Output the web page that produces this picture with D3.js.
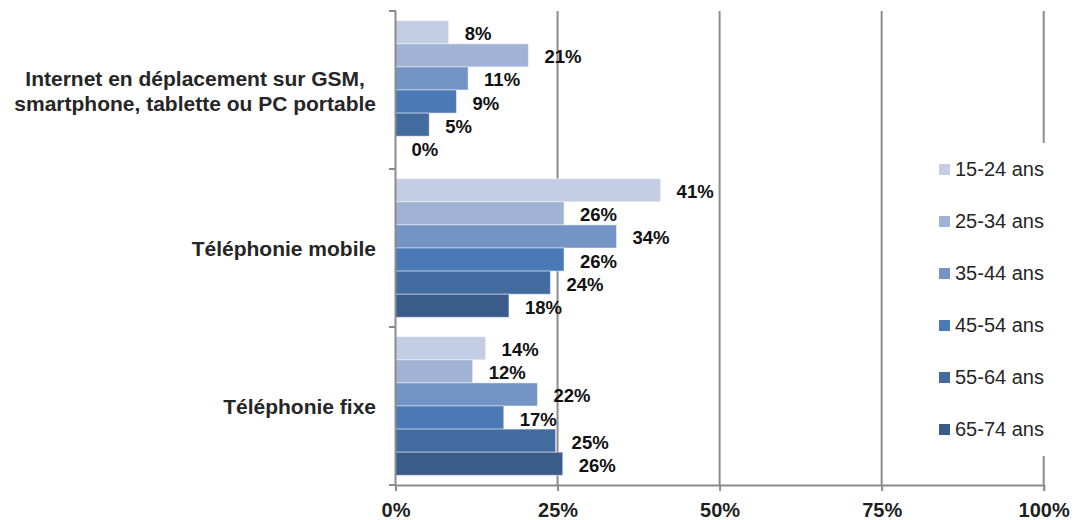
<!DOCTYPE html>
<html><head><meta charset="utf-8">
<script src="https://cdn.jsdelivr.net/npm/d3@7"></script>
<style>
html,body{margin:0;padding:0;background:#fff;}
svg{display:block;font-family:"Liberation Sans",Arial,sans-serif;}
</style></head>
<body><svg id="chart" width="1080" height="520"></svg>
<script>
const categories = [
  ["Internet en déplacement sur GSM,", "smartphone, tablette ou PC portable"],
  ["Téléphonie mobile"],
  ["Téléphonie fixe"]
];
const seriesNames = ["15-24 ans","25-34 ans","35-44 ans","45-54 ans","55-64 ans","65-74 ans"];
const internetValues = [8.2, 20.5, 11.2, 9.4, 5.2, 0];
const mobileValues   = [40.9, 26.0, 34.1, 26.0, 23.9, 17.5];
const fixeValues     = [13.9, 11.9, 21.9, 16.7, 24.7, 25.8];
const xTicks = [0, 25, 50, 75, 100];
const colors = ["#c3cde3","#a1b3d5","#7494c6","#4a7ab5","#426b9f","#3a5c8a"];

const values = [internetValues, mobileValues, fixeValues];
const svg = d3.select("#chart");
const x = d3.scaleLinear().domain([0,100]).range([395.5, 1043.7]);
const y0 = d3.scaleBand().domain(d3.range(categories.length)).range([11, 485]).padding(0);
const y1 = d3.scaleBand().domain(d3.range(seriesNames.length)).range([0, y0.bandwidth()]).paddingInner(0).paddingOuter(0.42);
const axisColor = "#8c8c8c";

// gridlines
svg.append("g").selectAll("line").data(xTicks.slice(1)).join("line")
  .attr("x1", d=>x(d)).attr("x2", d=>x(d)).attr("y1", 11).attr("y2", 485)
  .attr("stroke", axisColor).attr("stroke-width", 2);

// bars
const groups = svg.append("g").selectAll("g").data(values).join("g")
  .attr("transform", (d,i)=>`translate(0,${y0(i)})`);
groups.selectAll("rect").data(d=>d).join("rect")
  .attr("x", x(0)).attr("y", (d,j)=>y1(j))
  .attr("width", d=>x(d)-x(0)).attr("height", y1.bandwidth())
  .attr("fill", (d,j)=>colors[j])
  .attr("stroke", (d)=> d>0 ? "rgba(255,255,255,0.45)" : "none").attr("stroke-width", 1);
groups.selectAll("text").data(d=>d).join("text")
  .attr("x", d=>x(d)+16).attr("y", (d,j)=>y1(j)+y1.bandwidth()/2+8)
  .attr("font-size", "18.5px").attr("font-weight", "bold").attr("fill", "#111")
  .text(d=>Math.round(d)+"%");

// y axis
svg.append("line").attr("x1", 395.5).attr("x2", 395.5).attr("y1", 11).attr("y2", 486)
  .attr("stroke", axisColor).attr("stroke-width", 2);
const yTickPos = d3.range(categories.length+1).map(i=> i<categories.length ? y0(i) : y0(i-1)+y0.bandwidth());
svg.append("g").selectAll("line").data(yTickPos).join("line")
  .attr("x1", 389).attr("x2", 396).attr("y1", d=>d).attr("y2", d=>d)
  .attr("stroke", axisColor).attr("stroke-width", 2);

// x axis
const xAxis = d3.axisBottom(x).tickValues(xTicks).tickFormat(d=>d+"%").tickSize(6).tickPadding(12);
const xg = svg.append("g").attr("transform", "translate(0,485)").call(xAxis);
xg.select(".domain").attr("stroke", axisColor).attr("stroke-width", 2);
xg.selectAll(".tick line").attr("stroke", axisColor).attr("stroke-width", 2);
xg.selectAll(".tick text").attr("font-size", "20px").attr("font-weight", "bold")
  .attr("fill", "#1f1f1f").attr("font-family", "Liberation Sans, Arial, sans-serif");

// category labels
categories.forEach((lines, i) => {
  const c = y0(i) + y0.bandwidth()/2;
  const g = svg.append("g");
  const n = lines.length;
  lines.forEach((ln, k) => {
    g.append("text").attr("x", 0).attr("y", c + (k - (n-1)/2)*25 + 8)
      .attr("text-anchor", "middle").attr("font-size", "21px").attr("font-weight", "bold")
      .attr("fill", "#262626").text(ln);
  });
  const bb = g.node().getBBox();
  g.attr("transform", `translate(${376 - (bb.x + bb.width)},0)`);
});

// legend
svg.append("rect").attr("x", 925).attr("y", 143).attr("width", 150).attr("height", 313).attr("fill", "#fff");
const lg = svg.append("g").selectAll("g").data(seriesNames).join("g")
  .attr("transform", (d,i)=>`translate(939,${164 + i*52})`);
lg.append("rect").attr("width", 11).attr("height", 11).attr("fill", (d,i)=>colors[i]);
lg.append("text").attr("x", 16).attr("y", 12).attr("font-size", "20px").attr("fill", "#262626").text(d=>d);
</script></body></html>
